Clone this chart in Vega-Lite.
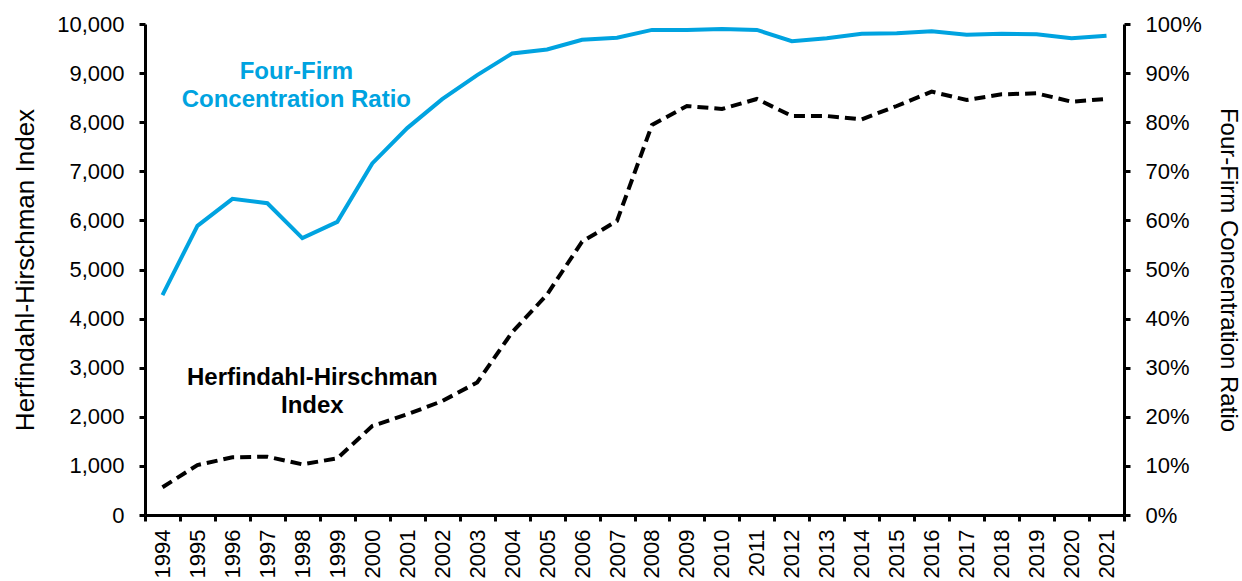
{
  "$schema": "https://vega.github.io/schema/vega-lite/v6.json",
  "width": 979,
  "height": 491,
  "autosize": {"type": "none"},
  "padding": {"left": 145, "top": 24, "right": 118, "bottom": 66},
  "background": "white",
  "config": {
    "view": {"stroke": null},
    "font": "Liberation Sans",
    "axis": {
      "grid": false,
      "domainColor": "black",
      "domainWidth": 3,
      "tickColor": "black",
      "tickWidth": 3,
      "tickSize": 6,
      "labelColor": "black",
      "titleColor": "black",
      "labelFont": "Liberation Sans",
      "titleFont": "Liberation Sans",
      "labelFontSize": 22,
      "titleFontSize": 24,
      "titleFontWeight": "normal"
    }
  },
  "datasets": {
    "main": [
      {"year": 1994, "hhi": 564, "ffcr": 0.448},
      {"year": 1995, "hhi": 1018, "ffcr": 0.589},
      {"year": 1996, "hhi": 1175, "ffcr": 0.644},
      {"year": 1997, "hhi": 1188, "ffcr": 0.635},
      {"year": 1998, "hhi": 1032, "ffcr": 0.564},
      {"year": 1999, "hhi": 1154, "ffcr": 0.597},
      {"year": 2000, "hhi": 1813, "ffcr": 0.716},
      {"year": 2001, "hhi": 2050, "ffcr": 0.788},
      {"year": 2002, "hhi": 2320, "ffcr": 0.847},
      {"year": 2003, "hhi": 2700, "ffcr": 0.896},
      {"year": 2004, "hhi": 3720, "ffcr": 0.940},
      {"year": 2005, "hhi": 4490, "ffcr": 0.948},
      {"year": 2006, "hhi": 5567, "ffcr": 0.968},
      {"year": 2007, "hhi": 5990, "ffcr": 0.972},
      {"year": 2008, "hhi": 7943, "ffcr": 0.988},
      {"year": 2009, "hhi": 8330, "ffcr": 0.988},
      {"year": 2010, "hhi": 8269, "ffcr": 0.990},
      {"year": 2011, "hhi": 8473, "ffcr": 0.988},
      {"year": 2012, "hhi": 8126, "ffcr": 0.965},
      {"year": 2013, "hhi": 8126, "ffcr": 0.971},
      {"year": 2014, "hhi": 8059, "ffcr": 0.980},
      {"year": 2015, "hhi": 8330, "ffcr": 0.981},
      {"year": 2016, "hhi": 8622, "ffcr": 0.985},
      {"year": 2017, "hhi": 8452, "ffcr": 0.978},
      {"year": 2018, "hhi": 8568, "ffcr": 0.980},
      {"year": 2019, "hhi": 8588, "ffcr": 0.979},
      {"year": 2020, "hhi": 8418, "ffcr": 0.971},
      {"year": 2021, "hhi": 8473, "ffcr": 0.976}
    ],
    "notes": [
      {"year": 1998, "y": 9016, "label": "Four-Firm\nConcentration Ratio", "series": "ffcr"},
      {"year": 1998, "y": 2790, "label": "Herfindahl-Hirschman\nIndex", "series": "hhi"}
    ]
  },
  "encoding": {
    "x": {
      "field": "year",
      "type": "ordinal",
      "bandPosition": 0.5,
      "scale": {"type": "band", "paddingInner": 0, "paddingOuter": 0},
      "axis": {"title": null, "labelAngle": -90, "tickBand": "extent", "labelPadding": 8, "labelAlign": "right", "labelBaseline": "middle"}
    }
  },
  "layer": [
    {
      "layer": [
        {
          "data": {"name": "main"},
          "mark": {"type": "line", "color": "black", "strokeWidth": 4, "strokeDash": [11, 6]},
          "encoding": {
            "y": {
              "field": "hhi",
              "type": "quantitative",
              "scale": {"domain": [0, 10000]},
              "axis": {
                "title": "Herfindahl-Hirschman Index",
                "titleFontSize": 26,
                "format": ",d",
                "values": [0, 1000, 2000, 3000, 4000, 5000, 6000, 7000, 8000, 9000, 10000],
                "labelPadding": 15,
                "titlePadding": 18
              }
            }
          }
        },
        {
          "data": {"name": "notes"},
          "transform": [{"filter": "datum.series == 'ffcr'"}],
          "mark": {"type": "text", "color": "#00A3E0", "fontWeight": "bold", "fontSize": 24, "lineBreak": "\n", "lineHeight": 28, "dx": -6, "font": "Liberation Sans"},
          "encoding": {
            "y": {"field": "y", "type": "quantitative"},
            "text": {"field": "label"}
          }
        },
        {
          "data": {"name": "notes"},
          "transform": [{"filter": "datum.series == 'hhi'"}],
          "mark": {"type": "text", "color": "black", "fontWeight": "bold", "fontSize": 24, "lineBreak": "\n", "lineHeight": 28, "dx": 10, "font": "Liberation Sans"},
          "encoding": {
            "y": {"field": "y", "type": "quantitative"},
            "text": {"field": "label"}
          }
        }
      ]
    },
    {
      "data": {"name": "main"},
      "mark": {"type": "line", "color": "#00A3E0", "strokeWidth": 4},
      "encoding": {
        "y": {
          "field": "ffcr",
          "type": "quantitative",
          "scale": {"domain": [0, 1]},
          "axis": {
            "orient": "right",
            "title": "Four-Firm Concentration Ratio",
            "format": ".0%",
            "values": [0, 0.1, 0.2, 0.3, 0.4, 0.5, 0.6, 0.7, 0.8, 0.9, 1],
            "labelPadding": 15,
            "titlePadding": 14
          }
        }
      }
    }
  ],
  "resolve": {"scale": {"y": "independent"}}
}
